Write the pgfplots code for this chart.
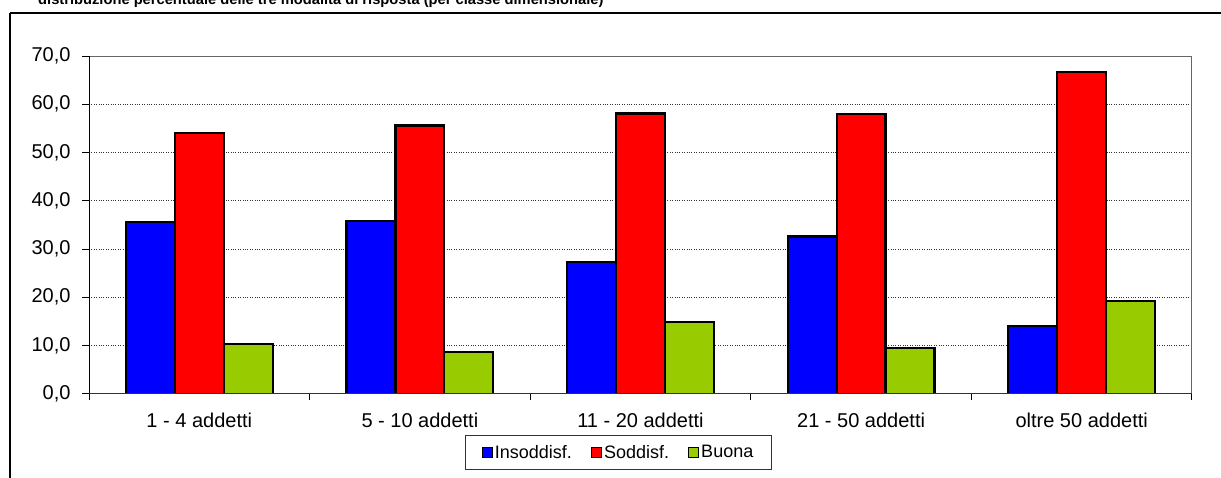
\documentclass[border=0pt]{standalone}
\usepackage{pgfplots}
\pgfplotsset{compat=1.18}
\usepackage{fontspec}
\setmainfont{Liberation Sans}
\definecolor{cBlue}{RGB}{0,0,255}
\definecolor{cRed}{RGB}{255,0,0}
\definecolor{cGreen}{RGB}{153,204,0}
\begin{document}
\begin{tikzpicture}[x=1pt,y=1pt]
\path[use as bounding box] (0,0) rectangle (1221,477);
\draw[line width=1.2pt] (10,464) -- (1260,464);
\draw[line width=1.2pt] (10,464) -- (10,-20);
\node[anchor=base west, font=\fontsize{14.7}{17}\selectfont\bfseries, inner sep=0] at (38,472.3) {distribuzione percentuale delle tre modalità di risposta (per classe dimensionale)};
\begin{axis}[
  at={(89pt,83.2pt)}, anchor=south west,
  scale only axis, width=1103pt, height=337.8pt,
  xmin=-0.5, xmax=4.5, ymin=0, ymax=70,
  ytick={0,10,...,70},
  xtick={0,1,2,3,4},
  xticklabels={1 - 4 addetti, 5 - 10 addetti, 11 - 20 addetti, 21 - 50 addetti, oltre 50 addetti},
  minor xtick={-0.5,0.5,1.5,2.5,3.5,4.5},
  tick align=outside, tick pos=left,
  major tick length=7pt, minor tick length=6pt,
  major x tick style={draw=none},
  minor x tick style={draw=black, line width=1pt},
  y tick style={draw=black, line width=1pt},
  ymajorgrids,
  major grid style={dotted, draw=black!80, line width=0.9pt},
  axis line style={draw=gray!80!black, line width=1pt},
  ticklabel style={font=\fontsize{20}{23}\selectfont},
  /pgf/number format/assume math mode=true,
  yticklabel={\pgfmathprintnumber[fixed,fixed zerofill,precision=1,use comma]{\tick}},
  yticklabel style={anchor=east, xshift=-8pt},
  xticklabel style={anchor=north, yshift=-9pt},
  ybar, bar width=0.222,
  every axis plot/.append style={draw=black, line width=2.2pt},
  legend style={at={(axis description cs:0.48,0)}, anchor=north, yshift=-41pt,
    legend columns=-1, draw=black!80, line width=0.8pt,
    font=\fontsize{18}{21}\selectfont, inner xsep=16pt, inner ysep=8pt,
    /tikz/every even column/.append style={column sep=17pt}},
  legend image code/.code={\draw[#1,line width=1.2pt] (0pt,-5pt) rectangle (10pt,5pt);},
]
\addplot[fill=cBlue, bar shift=-0.222] coordinates {(0,35.6) (1,35.8) (2,27.3) (3,32.6) (4,14.1)};
\addplot[fill=cRed, bar shift=0] coordinates {(0,54.1) (1,55.6) (2,58.1) (3,57.9) (4,66.7)};
\addplot[fill=cGreen, bar shift=0.222] coordinates {(0,10.3) (1,8.6) (2,14.8) (3,9.5) (4,19.3)};
\legend{Insoddisf., Soddisf., Buona}
\draw[black, line width=1.2pt] (rel axis cs:0,0) -- (rel axis cs:0,1);
\draw[black!80, line width=1.6pt] (rel axis cs:0,0) -- (rel axis cs:1,0);
\end{axis}
\end{tikzpicture}
\end{document}
